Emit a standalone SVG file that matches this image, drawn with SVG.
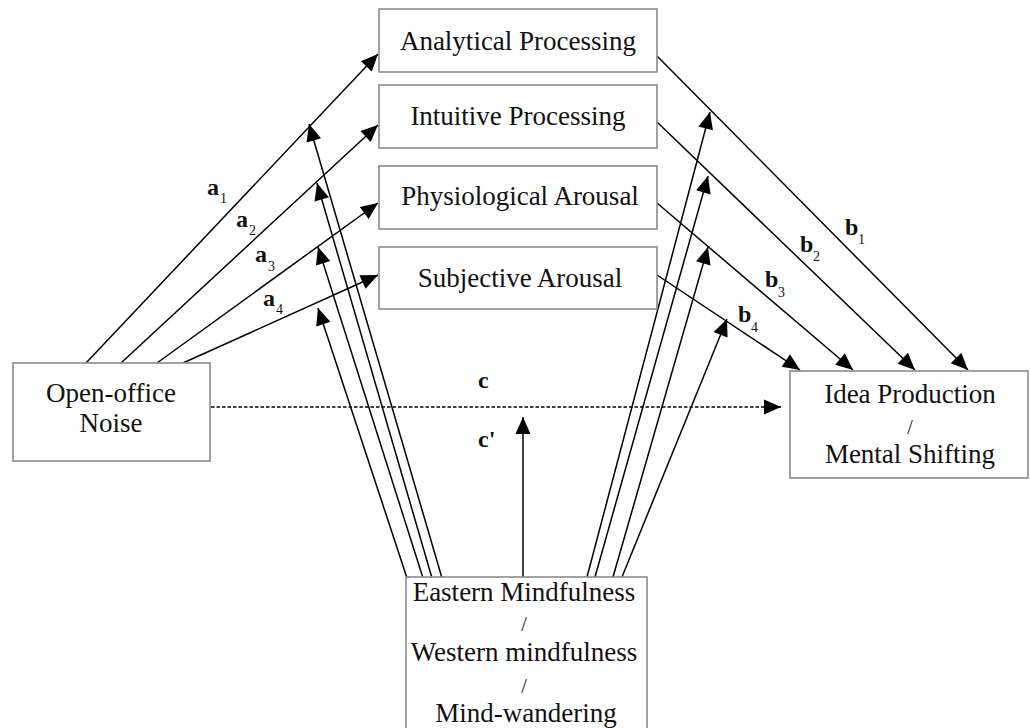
<svg xmlns="http://www.w3.org/2000/svg" width="1030" height="728" viewBox="0 0 1030 728">
<style>
.box{fill:#fff;stroke:#8a8a8a;stroke-width:1.6}
.t{font-family:"Liberation Serif","Times New Roman",serif;font-size:27px;fill:#111;text-anchor:middle}
.sl{font-family:"Liberation Serif","Times New Roman",serif;font-size:20px;fill:#111;text-anchor:middle}
.ln{stroke:#000;stroke-width:1.5;fill:none;marker-end:url(#ah)}
.dl{stroke:#000;stroke-width:1.5;fill:none;stroke-dasharray:3.5 2;marker-end:url(#ah)}
.lb{font-family:"Liberation Serif","Times New Roman",serif;font-size:24px;font-weight:bold;fill:#111}
.sb{font-family:"Liberation Serif","Times New Roman",serif;font-size:14px;fill:#111}
</style>
<defs>
<marker id="ah" markerUnits="userSpaceOnUse" markerWidth="18" markerHeight="16" refX="17" refY="7.5" orient="auto" overflow="visible">
<path d="M0,0 L17,7.5 L0,15 Z" fill="#000"/>
</marker>
</defs>
<rect width="1030" height="728" fill="#fff"/>
<g id="connectors">
<line class="ln" x1="86" y1="363" x2="378" y2="54"/>
<line class="ln" x1="121" y1="363" x2="378" y2="125"/>
<line class="ln" x1="157" y1="363" x2="378" y2="203"/>
<line class="ln" x1="183" y1="363" x2="378" y2="275"/>
<line class="ln" x1="657" y1="56" x2="968" y2="370"/>
<line class="ln" x1="657" y1="122" x2="915" y2="370"/>
<line class="ln" x1="657" y1="203" x2="853" y2="370"/>
<line class="ln" x1="657" y1="275" x2="800" y2="370"/>
<line class="ln" x1="442" y1="578" x2="309" y2="124"/>
<line class="ln" x1="432" y1="578" x2="317" y2="183"/>
<line class="ln" x1="423" y1="578" x2="318" y2="247"/>
<line class="ln" x1="407" y1="578" x2="318" y2="308"/>
<line class="ln" x1="587" y1="577" x2="710" y2="112"/>
<line class="ln" x1="595" y1="577" x2="708" y2="176"/>
<line class="ln" x1="613" y1="577" x2="708" y2="247"/>
<line class="ln" x1="622" y1="577" x2="727" y2="319"/>
<line class="ln" x1="523" y1="577" x2="523" y2="417"/>
<line class="dl" x1="211" y1="407" x2="781" y2="407"/>
<text class="lb" x="207" y="195">a</text><text class="sb" x="220" y="203">1</text>
<text class="lb" x="236" y="227">a</text><text class="sb" x="249" y="235">2</text>
<text class="lb" x="255" y="262">a</text><text class="sb" x="268" y="271">3</text>
<text class="lb" x="263" y="306">a</text><text class="sb" x="276" y="314">4</text>
<text class="lb" x="845" y="235">b</text><text class="sb" x="858" y="244">1</text>
<text class="lb" x="800" y="252">b</text><text class="sb" x="813" y="261">2</text>
<text class="lb" x="765" y="287">b</text><text class="sb" x="778" y="297">3</text>
<text class="lb" x="738" y="322">b</text><text class="sb" x="751" y="332">4</text>
<text class="lb" x="478" y="388">c</text>
<text class="lb" x="478" y="447">c'</text>
</g>
<g id="analytical">
<rect class="box" x="379" y="9" width="278" height="63"/>
<text class="t" x="518" y="50">Analytical Processing</text>
</g>
<g id="intuitive">
<rect class="box" x="379" y="85" width="278" height="63"/>
<text class="t" x="518" y="125">Intuitive Processing</text>
</g>
<g id="physiological">
<rect class="box" x="379" y="166" width="278" height="63"/>
<text class="t" x="520" y="205">Physiological Arousal</text>
</g>
<g id="subjective">
<rect class="box" x="379" y="247" width="278" height="62"/>
<text class="t" x="520" y="287">Subjective Arousal</text>
</g>
<g id="noise">
<rect class="box" x="13" y="363" width="197" height="98"/>
<text class="t" x="111" y="402">Open-office</text>
<text class="t" x="111" y="432">Noise</text>
</g>
<g id="outcome">
<rect class="box" x="790" y="371" width="238" height="107"/>
<text class="t" x="910" y="403">Idea Production</text>
<text class="sl" x="910" y="434">/</text>
<text class="t" x="910" y="463">Mental Shifting</text>
</g>
<g id="moderator">
<rect class="box" x="406" y="577" width="241" height="170"/>
<text class="t" x="524" y="601">Eastern Mindfulness</text>
<text class="sl" x="524" y="631">/</text>
<text class="t" x="524" y="661">Western mindfulness</text>
<text class="sl" x="524" y="693">/</text>
<text class="t" x="526" y="722">Mind-wandering</text>
</g>
</svg>
